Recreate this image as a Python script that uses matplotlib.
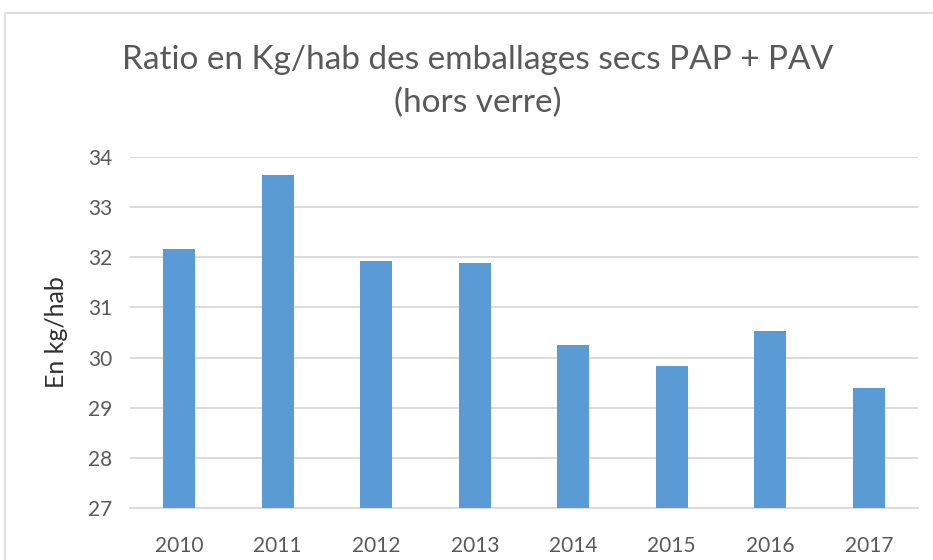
import matplotlib
matplotlib.use("Agg")
import matplotlib.pyplot as plt
from matplotlib.patches import Rectangle

years = ["2010", "2011", "2012", "2013", "2014", "2015", "2016", "2017"]
values = [32.17, 33.64, 31.92, 31.88, 30.25, 29.84, 30.53, 29.40]
yticks = [27, 28, 29, 30, 31, 32, 33, 34]

plt.rcParams['font.family'] = ['Lato', 'DejaVu Sans']

fig = plt.figure(figsize=(9.33, 5.6), dpi=100)
ax = fig.add_axes([130/933, 1 - 508/560, (918-130)/933, (508-157)/560])

x = list(range(len(years)))
ax.bar(x, values, width=0.32, bottom=0, color="#5B9BD5", zorder=3)
ax.set_xlim(-0.5, len(years) - 0.5)
ax.set_ylim(27, 34)
ax.set_yticks(yticks)
ax.set_yticklabels([str(t) for t in yticks])
ax.set_xticks(x)
ax.set_xticklabels(years)
ax.tick_params(axis='both', length=0, labelsize=15, colors="#595959")
ax.tick_params(axis='x', pad=20)
ax.tick_params(axis='y', pad=13)
ax.grid(axis='y', color="#D9D9D9", linewidth=1.3, zorder=0)
for s in ["top", "right", "left"]:
    ax.spines[s].set_visible(False)
ax.spines["bottom"].set_color("#D9D9D9")
ax.spines["bottom"].set_linewidth(1.3)
ax.set_ylabel("En kg/hab", fontsize=18, color="#303030", labelpad=14)

fig.text(478/933, 1 - 60/560, "Ratio en Kg/hab des emballages secs PAP + PAV",
         ha="center", va="center", fontsize=24, color="#595959")
fig.text(478/933, 1 - 103/560, "(hors verre)",
         ha="center", va="center", fontsize=24, color="#595959")

fig.patches.append(Rectangle((5/933, -0.1), 1.2, 1 - 13/560 + 0.1,
                             transform=fig.transFigure, fill=False,
                             edgecolor="#D9D9D9", linewidth=1.2))

fig.savefig("out.png", dpi=100)
